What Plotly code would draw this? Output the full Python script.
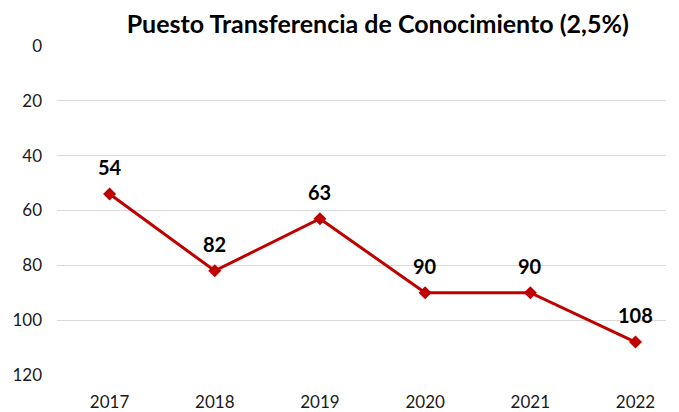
import plotly.graph_objects as go

years = [2017, 2018, 2019, 2020, 2021, 2022]
puesto = [54, 82, 63, 90, 90, 108]
labels = [str(v) for v in puesto]
title = "Puesto Transferencia de Conocimiento (2,5%)"

FONT = "Lato, Open Sans, sans-serif"

fig = go.Figure()
fig.add_trace(go.Scatter(
    x=years, y=puesto, mode="lines+markers",
    line=dict(color="#C00000", width=3),
    marker=dict(symbol="diamond", size=10, color="#C00000"),
    cliponaxis=False,
))
for x, y, t in zip(years, puesto, labels):
    fig.add_annotation(x=x, y=y, text="<b>" + t + "</b>", showarrow=False, yshift=27,
                       font=dict(family=FONT, size=20, color="black"))

fig.update_layout(
    width=671, height=404,
    margin=dict(l=49, r=13, t=38, b=37),
    plot_bgcolor="white", paper_bgcolor="white",
    showlegend=False,
    title=dict(text="<b>" + title + "</b>", x=0.551, xanchor="center", y=0.961, yanchor="middle",
               font=dict(family=FONT, size=25, color="black")),
    font=dict(family=FONT, size=17, color="#1a1a1a"),
)
fig.update_xaxes(range=[2016.5, 2022.29], tickvals=years, ticktext=[str(y) for y in years],
                 showgrid=False, zeroline=False, showline=False, ticks="", ticklabelstandoff=15,
                 automargin=False)
fig.update_yaxes(range=[120, 0], tickvals=[0, 20, 40, 60, 80, 100, 120], showgrid=True,
                 gridcolor="#d9d9d9", gridwidth=1, zeroline=False, showline=False,
                 ticks="", ticklabelstandoff=14, automargin=False)

fig.write_html("out.html")
